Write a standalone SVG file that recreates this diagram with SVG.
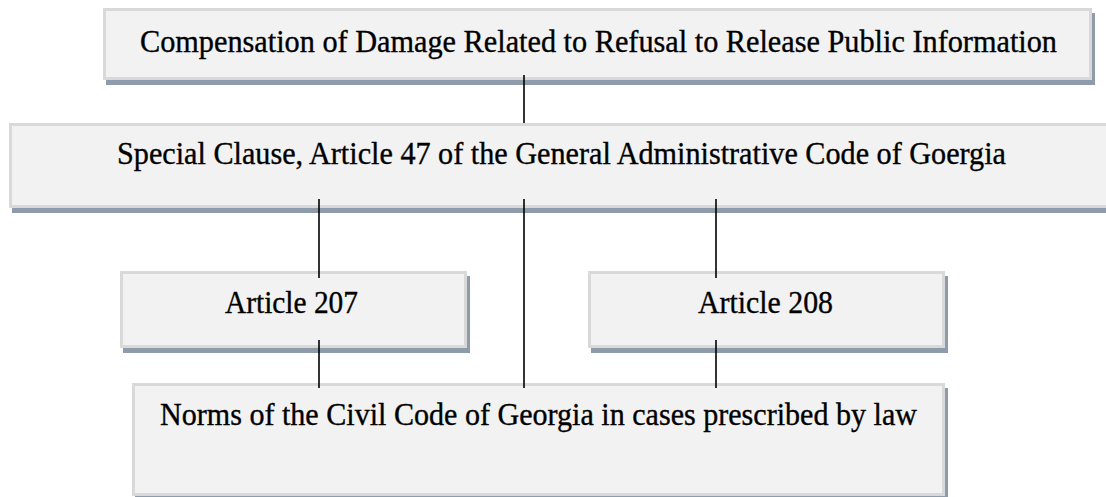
<svg xmlns="http://www.w3.org/2000/svg" width="1106" height="497" viewBox="0 0 1106 497">
<style>
.box{fill:#f2f2f2;stroke:#d9d9d9;stroke-width:3}
.sh{fill:#8e9bab}
.t{font-family:"Liberation Serif","Times New Roman",serif;font-size:31px;fill:#000;stroke:#000;stroke-width:0.35;text-anchor:start}
.c{stroke:#000;stroke-width:1.6;fill:none}
</style>
<rect width="1106" height="497" fill="#ffffff"/>
<g id="node-compensation">
<rect class="sh" x="106" y="13" width="989" height="72"/>
<rect class="box" x="104.5" y="9.5" width="986" height="69"/>
<text class="t" x="140" y="52" textLength="917" lengthAdjust="spacingAndGlyphs">Compensation of Damage Related to Refusal to Release Public Information</text>
</g>
<g id="node-special-clause">
<rect class="sh" x="12" y="128" width="1104" height="85"/>
<rect class="box" x="10.5" y="124.5" width="1101" height="82"/>
<text class="t" x="117" y="164" textLength="889" lengthAdjust="spacingAndGlyphs">Special Clause, Article 47 of the General Administrative Code of Goergia</text>
</g>
<g id="node-article-207">
<rect class="sh" x="123" y="276" width="347" height="77"/>
<rect class="box" x="121.5" y="272.5" width="344" height="74"/>
<text class="t" x="225" y="313" textLength="133" lengthAdjust="spacingAndGlyphs">Article 207</text>
</g>
<g id="node-article-208">
<rect class="sh" x="591" y="276" width="357" height="77"/>
<rect class="box" x="589.5" y="272.5" width="354" height="74"/>
<text class="t" x="698" y="313" textLength="135" lengthAdjust="spacingAndGlyphs">Article 208</text>
</g>
<g id="node-civil-code">
<rect class="sh" x="135" y="388" width="813" height="115"/>
<rect class="box" x="133.5" y="384.5" width="810" height="110"/>
<text class="t" x="160" y="425" textLength="757" lengthAdjust="spacingAndGlyphs">Norms of the Civil Code of Georgia in cases prescribed by law</text>
</g>
<g id="connectors">
<line class="c" x1="524" y1="75" x2="524" y2="123"/>
<line class="c" x1="319" y1="199" x2="319" y2="278"/>
<line class="c" x1="716" y1="199" x2="716" y2="278"/>
<line class="c" x1="524" y1="199" x2="524" y2="388"/>
<line class="c" x1="319" y1="340" x2="319" y2="388"/>
<line class="c" x1="716" y1="340" x2="716" y2="388"/>
</g>
</svg>
